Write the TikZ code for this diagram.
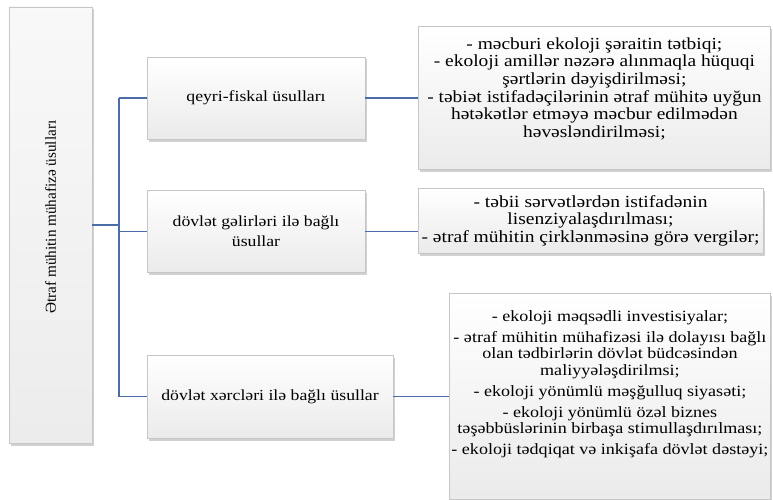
\documentclass[tikz,border=0pt]{standalone}
\usepackage{fontspec}
\setmainfont{Liberation Serif}
\newfontfamily\listfont{Liberation Serif}[FakeStretch=1.15]
\usepackage{tikz}
\usetikzlibrary{positioning,shadows}
\definecolor{connblue}{HTML}{4A6DA7}
\definecolor{boxline}{HTML}{C6C6C6}

\begin{document}
\begin{tikzpicture}[
    x=1pt, y=-1pt,
    base/.style = {rectangle, draw=boxline, thin, top color=white, bottom color=gray!16, drop shadow={shadow xshift=1.5pt, shadow yshift=-2.5pt, opacity=.45, fill=gray!80}, align=center, inner sep=2pt},
    txt/.style = {align=center, inner sep=0pt, font=\listfont\fontsize{15.4}{20}\selectfont},
    mainbox/.style = {base, top color=gray!5, bottom color=gray!15, minimum width=83pt, minimum height=436pt},
    kind/.style = {base, txt, minimum width=218pt, minimum height=82pt},
    items/.style = {base, txt},
    conn/.style = {draw=connblue, line width=1.1pt},
]
    \useasboundingbox (0,0) rectangle (773,500);

    % main box
    \node[mainbox] (main) at (50.5,225) {};
    \node[txt, rotate=90, font=\fontsize{15.2}{18}\selectfont] (mainlbl) at ([yshift=8pt]main.center) {Ətraf mühitin mühafizə üsulları};

    % methods
    \node[kind] (qf) at (256,98) {qeyri-fiskal üsulları};
    \node[kind, below=51pt of qf] (dg) {dövlət gəlirləri ilə bağlı\\ üsullar};
    \node[kind, minimum width=246pt, minimum height=83pt] (dx) at (270,396.5) {dövlət xərcləri ilə bağlı üsullar};

    % items
    \node[items, minimum width=352pt, minimum height=143pt, right=53pt of qf] (r1) {};
    \node[txt, anchor=north, yshift=-11pt, font=\listfont\fontsize{16.9}{17.6}\selectfont] (r1txt) at (r1.north) {- məcburi ekoloji şəraitin tətbiqi;\\
        - ekoloji amillər nəzərə alınmaqla hüquqi\\
        şərtlərin dəyişdirilməsi;\\
        - təbiət istifadəçilərinin ətraf mühitə uyğun\\
        hətəkətlər etməyə məcbur edilmədən\\
        həvəsləndirilməsi;};
    \node[items, minimum width=345pt, minimum height=65pt, font=\listfont\fontsize{17}{17.5}\selectfont] (r2) at (590.5,220.5) {- təbii sərvətlərdən istifadənin\\
        lisenziyalaşdırılması;\\
        - ətraf mühitin çirklənməsinə görə vergilər;};
    \node[items, minimum width=321pt, minimum height=206pt, right=56pt of dx] (r3) {};
    \node[txt, anchor=north, yshift=-17pt, font=\listfont\fontsize{15.7}{16.5}\selectfont] (r3txt) at (r3.north) {- ekoloji məqsədli investisiyalar;\\[4.5pt]
        - ətraf mühitin mühafizəsi ilə dolayısı bağlı\\
        olan tədbirlərin dövlət büdcəsindən\\
        maliyyələşdirilmsi;\\[4.5pt]
        - ekoloji yönümlü məşğulluq siyasəti;\\[4.5pt]
        - ekoloji yönümlü özəl biznes\\
        təşəbbüslərinin birbaşa stimullaşdırılması;\\[4.5pt]
        - ekoloji tədqiqat və inkişafa dövlət dəstəyi;};

    % connectors
    \coordinate (jx) at (119,0);
    \draw[conn] (main.east) -- (main.east -| jx);
    \draw[conn] (qf.west -| jx) -- (dx.west -| jx);
    \draw[conn] (qf.west -| jx) -- (qf.west);
    \draw[conn] (dg.west -| jx) -- (dg.west);
    \draw[conn] (dx.west -| jx) -- (dx.west);
    \draw[conn] (qf.east) -- (qf.east -| r1.west);
    \draw[conn] (dg.east) -- (dg.east -| r2.west);
    \draw[conn] (dx.east) -- (dx.east -| r3.west);
\end{tikzpicture}
\end{document}
